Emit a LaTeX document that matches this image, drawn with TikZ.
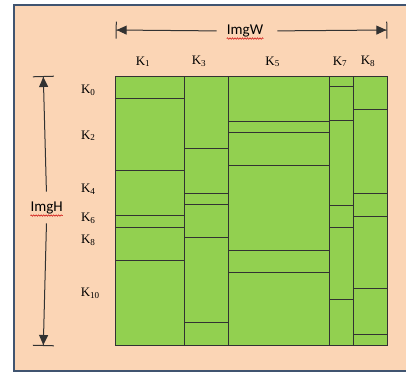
\documentclass[tikz,border=0pt]{standalone}
\usepackage{fontspec}
\setmainfont{Liberation Serif}
\newfontfamily\calibri{Carlito}
\usetikzlibrary{arrows.meta,decorations.pathmorphing}
\definecolor{peach}{RGB}{251,213,181}
\definecolor{cellgreen}{RGB}{146,208,80}
\definecolor{frameblue}{RGB}{64,84,112}
\definecolor{linegray}{RGB}{50,50,50}

\begin{document}
\begin{tikzpicture}[x=1pt,y=1pt,
  klabel/.style={inner sep=0pt,font=\fontsize{13}{13}\selectfont},
  dimlabel/.style={inner sep=0pt,font=\calibri\fontsize{15}{15}\selectfont},
  dimline/.style={line width=1pt,draw=linegray},
  tipw/.style={{Bar[width=17pt,sep=0pt]Triangle[length=10pt,width=9pt]}-},
  tipwe/.style={-{Triangle[length=10pt,width=9pt,sep=0pt]Bar[width=17pt]}},
  tiph/.style={{Bar[width=21pt,sep=0pt]Triangle[length=10pt,width=9pt]}-},
  tiphe/.style={-{Triangle[length=10pt,width=9pt,sep=0pt]Bar[width=21pt]}},
  cell/.style={line width=0.9pt,draw=linegray},
  spell/.style={red!80!black,line width=0.5pt,decorate,decoration={snake,amplitude=0.7pt,segment length=2.5pt}}]
\useasboundingbox (0,0) rectangle (406,-373);
% page frame
\fill[peach] (14,-5) rectangle (406,-371);
\draw[frameblue,line width=1.6pt] (406,-5) -- (14,-5) -- (14,-371) -- (406,-371);
% grid of blocks
\fill[cellgreen] (115.7,-76.7) rectangle (387.3,-345);
\foreach \xa/\xb/\cuts in {115.7/184.3/{98.3,170.3,215.7,227,260.3},
                           184.3/228.3/{148.7,193.3,204.3,237.7,322.3},
                           228.3/329.3/{121,132,165.7,250.3,272.7},
                           329.3/353/{86.7,120.3,205,227.7,299.3},
                           353/387.3/{109.3,193.7,216.3,288.7,334}}
  \foreach \y in \cuts
    \draw[cell] (\xa,-\y) -- (\xb,-\y);
\foreach \x in {184.3,228.3,329.3,353}
  \draw[cell] (\x,-76.7) -- (\x,-345);
\draw[cell] (115.7,-76.7) rectangle (387.3,-345);
% width arrow
\coordinate (wl) at (115.7,-30);
\coordinate (wr) at (387.3,-30);
\node[dimlabel] (imgw) at (245,-31) {ImgW};
\draw[dimline,tipw,shorten >=10pt] (wl) -- (imgw.west);
\draw[dimline,tipwe,shorten <=14pt] (imgw.east) -- (wr);
\draw[spell] ([yshift=-4pt]imgw.base west) -- ([yshift=-4pt]imgw.base east);
% height arrow
\coordinate (ht) at (43.3,-76);
\coordinate (hb) at (43.3,-346);
\node[dimlabel] (imgh) at (46.7,-208) {ImgH};
\draw[dimline,tiph,shorten >=10pt] (ht) -- (imgh.north);
\draw[dimline,tiphe,shorten <=9pt] (imgh.south) -- (hb);
\draw[spell] ([yshift=-4pt]imgh.base west) -- ([yshift=-4pt]imgh.base east);
% column labels
\node[klabel] (k1) at (143,-61.7) {K\textsubscript{1}};
\node[klabel] (k3) at (199,-61.7) {K\textsubscript{3}};
\node[klabel] (k5) at (272.7,-61.7) {K\textsubscript{5}};
\node[klabel] (k7) at (340,-61.7) {K\textsubscript{7}};
\node[klabel] (k8c) at (368,-61.7) {K\textsubscript{8}};
% row labels
\node[klabel] (k0) at (88.3,-90) {K\textsubscript{0}};
\node[klabel] (k2) at (88.3,-135.7) {K\textsubscript{2}};
\node[klabel] (k4) at (88.3,-189.3) {K\textsubscript{4}};
\node[klabel] (k6) at (88.3,-218.3) {K\textsubscript{6}};
\node[klabel] (k8r) at (88.3,-240.7) {K\textsubscript{8}};
\node[klabel] (k10) at (90.3,-293.3) {K\textsubscript{10}};
\end{tikzpicture}
\end{document}
